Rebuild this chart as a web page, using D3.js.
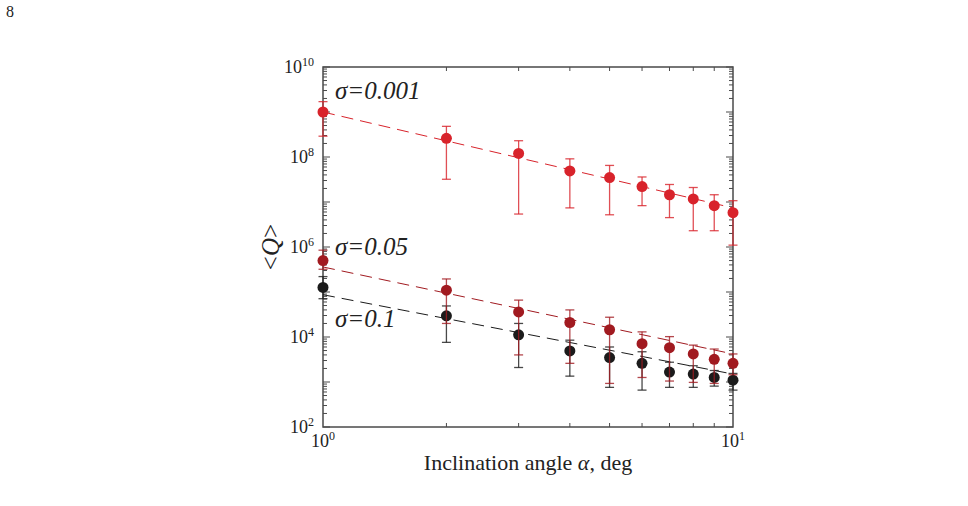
<!DOCTYPE html>
<html>
<head>
<meta charset="utf-8">
<script src="https://cdn.jsdelivr.net/npm/d3@7"></script>
<style>
  body { margin: 0; background: #fff; }
</style>
</head>
<body>
<svg id="chart" width="968" height="506" font-family="'Liberation Serif', 'Times New Roman', serif"></svg>
<script>
// Inclination angle, deg
const ANGLES = [1, 2, 3, 4, 5, 6, 7, 8, 9, 10];

// sigma = 0.001 (mean, upper, lower)
const Q_S0001 = [1.0e9, 2.6e8, 1.2e8, 4.9e7, 3.5e7, 2.2e7, 1.45e7, 1.17e7, 8.3e6, 5.8e6];
const Q_S0001_HI = [1.7e9, 4.8e8, 2.3e8, 9.1e7, 6.5e7, 3.6e7, 2.45e7, 2.1e7, 1.45e7, 1.07e7];
const Q_S0001_LO = [2.9e8, 3.2e7, 5.4e6, 7.4e6, 5.2e6, 8.3e6, 4.5e6, 2.3e6, 2.3e6, 1.1e6];

// sigma = 0.05
const Q_S005 = [5.0e5, 1.1e5, 3.6e4, 2.1e4, 1.45e4, 7.1e3, 5.8e3, 4.2e3, 3.2e3, 2.6e3];
const Q_S005_HI = [8.5e5, 1.95e5, 6.6e4, 4.0e4, 2.75e4, 1.3e4, 1.02e4, 6.6e3, 5.4e3, 4.2e3];
const Q_S005_LO = [3.2e5, 2.0e4, 4.0e3, 2.6e3, 930, 1.26e3, 1.05e3, 980, 930, 1.45e3];

// sigma = 0.1
const Q_S01 = [1.26e5, 2.95e4, 1.12e4, 4.9e3, 3.5e3, 2.6e3, 1.66e3, 1.5e3, 1.26e3, 1.1e3];
const Q_S01_HI = [2.2e5, 4.9e4, 2.0e4, 8.5e3, 6.0e3, 4.7e3, 2.75e3, 2.3e3, 1.8e3, 1.55e3];
const Q_S01_LO = [7.1e4, 7.6e3, 2.1e3, 1.35e3, 760, 660, 760, 760, 810, 660];

// power-law fits, end points [angle, Q]
const FIT_S0001 = [[1, 1.0e9], [10, 7.4e6]];
const FIT_S005 = [[1, 3.6e5], [10, 4.2e3]];
const FIT_S01 = [[1, 8.7e4], [10, 1.5e3]];

const Y_TICK_EXPONENTS = [2, 4, 6, 8, 10];
const X_TICK_EXPONENTS = [0, 1];

const LEFT = 323, RIGHT = 733, TOP = 67, BOTTOM = 427;
const AXIS_COLOR = '#4a4a4a';
const SERIF = "'Liberation Serif', 'Times New Roman', serif";

let svg = d3.select('#chart');

let xScale = d3.scaleLog().domain([1, 10]).range([LEFT, RIGHT]);
let yScale = d3.scaleLog().domain([1e2, 1e10]).range([BOTTOM, TOP]);

// page number
svg.append('text')
    .attr('x', 6).attr('y', 17)
    .attr('font-family', SERIF)
    .attr('font-size', 16)
    .attr('fill', '#222')
    .text('8');

// ticks: majors every decade on y, minors 2..9
let yMinor = [], yMajor = [];
for (let e = 2; e < 10; e++) {
  yMajor.push(Math.pow(10, e));
  for (let m = 2; m <= 9; m++) yMinor.push(m * Math.pow(10, e));
}
yMajor.push(1e10);
let xMinor = [2, 3, 4, 5, 6, 7, 8, 9];

let ticks = svg.append('g')
    .attr('stroke', AXIS_COLOR)
    .attr('stroke-width', 1);

[[LEFT, 1], [RIGHT, -1]].forEach(function(side) {
  ticks.selectAll(null).data(yMajor).enter().append('line')
      .attr('x1', side[0]).attr('x2', side[0] + side[1] * 7)
      .attr('y1', function(d) { return yScale(d); })
      .attr('y2', function(d) { return yScale(d); });
  ticks.selectAll(null).data(yMinor).enter().append('line')
      .attr('x1', side[0]).attr('x2', side[0] + side[1] * 4)
      .attr('y1', function(d) { return yScale(d); })
      .attr('y2', function(d) { return yScale(d); });
});

[[BOTTOM, -1], [TOP, 1]].forEach(function(side) {
  ticks.selectAll(null).data(xMinor).enter().append('line')
      .attr('y1', side[0]).attr('y2', side[0] + side[1] * 4)
      .attr('x1', function(d) { return xScale(d); })
      .attr('x2', function(d) { return xScale(d); });
});

// frame
svg.append('rect')
    .attr('x', LEFT).attr('y', TOP)
    .attr('width', RIGHT - LEFT).attr('height', BOTTOM - TOP)
    .attr('fill', 'none')
    .attr('stroke', AXIS_COLOR)
    .attr('stroke-width', 1.5);

// tick labels
svg.selectAll(null).data(Y_TICK_EXPONENTS).enter().append('text')
    .attr('x', LEFT - 9)
    .attr('y', function(d) { return yScale(Math.pow(10, d)) + 6; })
    .attr('text-anchor', 'end')
    .attr('font-family', SERIF)
    .attr('font-size', 18)
    .attr('fill', '#222')
    .each(function(d) {
      d3.select(this).append('tspan').text('10');
      d3.select(this).append('tspan').attr('dy', -7).attr('font-size', 12).text(d);
    });

svg.selectAll(null).data(X_TICK_EXPONENTS).enter().append('text')
    .attr('x', function(d) { return xScale(Math.pow(10, d)); })
    .attr('y', BOTTOM + 20)
    .attr('text-anchor', 'middle')
    .attr('font-family', SERIF)
    .attr('font-size', 18)
    .attr('fill', '#222')
    .each(function(d) {
      d3.select(this).append('tspan').text('10');
      d3.select(this).append('tspan').attr('dy', -7).attr('font-size', 12).text(d);
    });

// axis titles
let xt = svg.append('text')
    .attr('x', (LEFT + RIGHT) / 2).attr('y', 470)
    .attr('text-anchor', 'middle')
    .attr('font-family', SERIF)
    .attr('font-size', 22)
    .attr('fill', '#222');
xt.append('tspan').text('Inclination angle ');
xt.append('tspan').attr('font-style', 'italic').text('α');
xt.append('tspan').text(', deg');

let yt = svg.append('text')
    .attr('transform', 'translate(279,' + ((TOP + BOTTOM) / 2) + ') rotate(-90)')
    .attr('text-anchor', 'middle')
    .attr('font-family', SERIF)
    .attr('font-size', 25)
    .attr('fill', '#222');
yt.append('tspan').text('<');
yt.append('tspan').attr('font-style', 'italic').text('Q');
yt.append('tspan').text('>');

let series = [
  {mean: Q_S01, hi: Q_S01_HI, lo: Q_S01_LO, fit: FIT_S01, color: '#1b1b1b'},
  {mean: Q_S005, hi: Q_S005_HI, lo: Q_S005_LO, fit: FIT_S005, color: '#a11a20'},
  {mean: Q_S0001, hi: Q_S0001_HI, lo: Q_S0001_LO, fit: FIT_S0001, color: '#d8232b'}
];

let fitLine = d3.line()
    .x(function(p) { return xScale(p[0]); })
    .y(function(p) { return yScale(p[1]); });

series.forEach(function(s) {
  let g = svg.append('g');
  g.append('path')
      .attr('d', fitLine(s.fit))
      .attr('fill', 'none')
      .attr('stroke', s.color)
      .attr('stroke-width', 1)
      .attr('stroke-dasharray', '12,7');

  let bars = g.append('g')
      .attr('stroke', s.color)
      .attr('stroke-opacity', 0.8)
      .attr('stroke-width', 1.3);
  bars.selectAll(null).data(ANGLES).enter().append('line')
      .attr('x1', function(a) { return xScale(a); })
      .attr('x2', function(a) { return xScale(a); })
      .attr('y1', function(a, i) { return yScale(s.hi[i]); })
      .attr('y2', function(a, i) { return yScale(s.lo[i]); });
  ['hi', 'lo'].forEach(function(k) {
    bars.selectAll(null).data(ANGLES).enter().append('line')
        .attr('x1', function(a) { return xScale(a) - 4.5; })
        .attr('x2', function(a) { return xScale(a) + 4.5; })
        .attr('y1', function(a, i) { return yScale(s[k][i]); })
        .attr('y2', function(a, i) { return yScale(s[k][i]); });
  });

  g.selectAll(null).data(ANGLES).enter().append('circle')
      .attr('cx', function(a) { return xScale(a); })
      .attr('cy', function(a, i) { return yScale(s.mean[i]); })
      .attr('r', 5.5)
      .attr('fill', s.color);
});

// sigma labels
[['σ=0.001', 99], ['σ=0.05', 255], ['σ=0.1', 327]].forEach(function(l) {
  svg.append('text')
      .attr('x', 335).attr('y', l[1])
      .attr('font-family', SERIF)
      .attr('font-size', 25)
      .attr('font-style', 'italic')
      .attr('fill', '#222')
      .text(l[0]);
});
</script>
</body>
</html>
